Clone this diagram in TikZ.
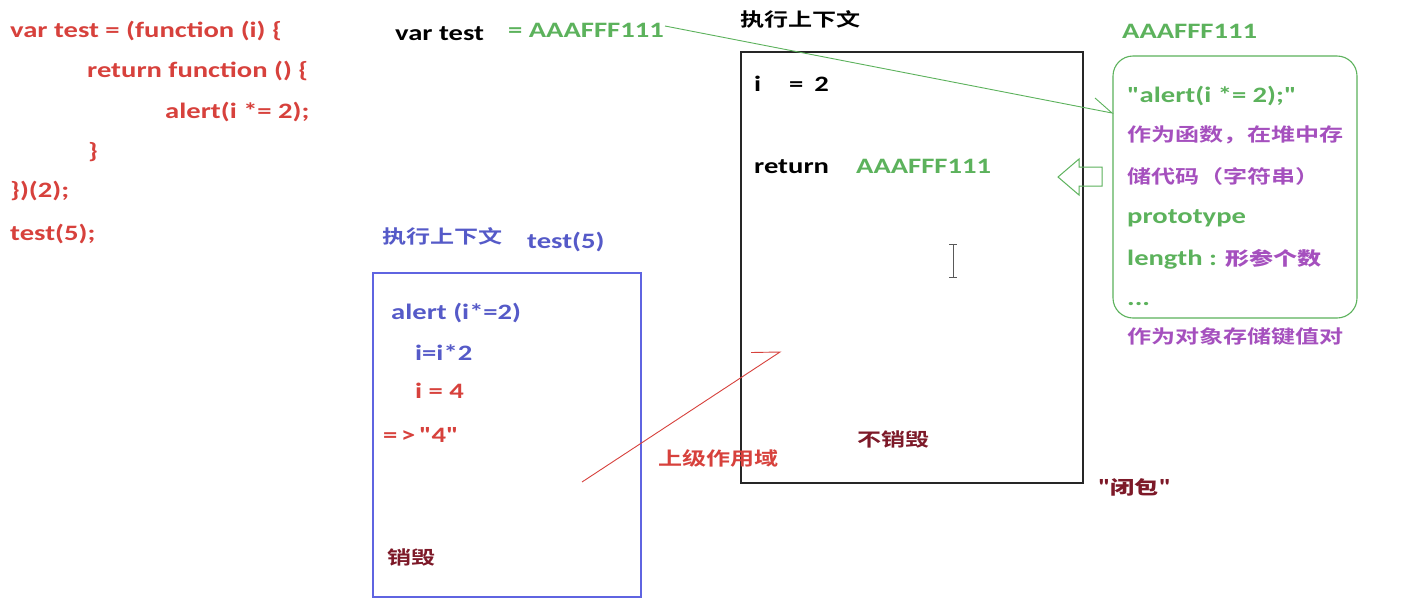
\documentclass[tikz,border=0pt]{standalone}
\usepackage{fontspec}
\setmainfont{Carlito}[FakeStretch=1.3, Ligatures=TeXOff]
\newfontfamily\cjk{Noto Sans CJK SC Bold}[FakeStretch=1.3]
\definecolor{codered}{RGB}{215,65,60}
\definecolor{tgreen}{RGB}{92,178,92}
\definecolor{tpurple}{RGB}{165,80,190}
\definecolor{tblue}{RGB}{85,90,200}
\definecolor{boxblue}{RGB}{95,100,225}
\definecolor{tmaroon}{RGB}{125,25,40}
\newcommand{\cjtext}[1]{{\fontsize{18.5}{22}\selectfont\cjk #1}}
\tikzset{
  txt/.style={anchor=base west, inner sep=0pt, font=\fontsize{22}{26}\selectfont\bfseries},
  cj/.style={anchor=base west, inner sep=0pt, font=\fontsize{18.5}{22}\selectfont\cjk},
}
\begin{document}
\begin{tikzpicture}[x=1pt,y=-1pt]
\useasboundingbox[fill=white] (0,0) rectangle (1402,606);
% code
\node[txt, text=codered] (c1) at (10,37) {var test = (function (i) \{};
\node[txt, text=codered] (c2) at (87,77) {return function () \{};
\node[txt, text=codered] (c3) at (165,118) {alert(i *= 2);};
\node[txt, text=codered] (c4) at (88,158) {\}};
\node[txt, text=codered] (c5) at (10,197) {\})(2);};
\node[txt, text=codered] (c6) at (10,240) {test(5);};
% var test
\node[txt, text=black] (vt) at (395,40) {var test};
\node[txt, text=tgreen] (vtval) at (508,37) {= AAAFFF111};
% big context
\node[cj, text=black] (ctx1) at (740,26) {执行上下文};
\draw[draw=black!85, line width=1.3pt] (741,52) rectangle (1083,483);
\node[txt, text=black] (ieq) at (754,91) {i\hspace{28pt}=\hspace{11pt}2};
\node[txt, text=black] (ret) at (754,173) {return};
\node[txt, text=tgreen] (retval) at (856,173) {AAAFFF111};
\node[cj, text=tmaroon] (nodes) at (857,446) {不销毁};
% cursor
\draw[gray!70!black, line width=1pt] (953,244) -- (953,277) (949,244) -- (957,244) (949,277) -- (957,277);
% heap object
\node[txt, text=tgreen] (heapname) at (1122,38) {AAAFFF111};
\draw[draw=tgreen, line width=1.1pt, rounded corners=20pt] (1113,56) rectangle (1357,318);
\node[txt, text=tgreen] (h1) at (1127,102) {"alert(i *= 2);"};
\node[cj, text=tpurple] (h2) at (1127,141) {作为函数，在堆中存};
\node[cj, text=tpurple] (h3) at (1127,183) {储代码（字符串）};
\node[txt, text=tgreen] (h4) at (1127,223) {prototype};
\node[txt, text=tgreen] (h5) at (1127,265) {length : \cjtext{\color{tpurple}形参个数}};
\node[txt, text=tgreen] (h6) at (1127,305) {...};
\node[cj, text=tpurple] (h7) at (1127,343) {作为对象存储键值对};
\node[txt, text=tmaroon] (bibao) at (1098,494) {"\cjtext{闭包}"};
% green pointer
\coordinate (gs) at (665,26);
\coordinate (gt) at (1112,113);
\coordinate (gw) at (1095,98);
\draw[draw=tgreen, line width=0.9pt] (gs) -- (gt) -- (gw);
% hollow block arrow
\draw[draw=tgreen, line width=1pt] (1058,177) -- (1079,159) -- (1079,167) -- (1102,167) -- (1102,186) -- (1079,186) -- (1079,195) -- cycle;
% small context
\node[cj, text=tblue] (ctx2) at (382,243) {执行上下文};
\node[txt, text=tblue] (t5) at (527,248) {test(5)};
\draw[draw=boxblue, line width=1.2pt] (373,273) rectangle (641,597);
\node[txt, text=tblue] (s1) at (391,319) {alert (i*=2)};
\node[txt, text=tblue] (s2) at (415,360) {i=i*2};
\node[txt, text=codered] (s3) at (415,398) {i = 4};
\node[txt, text=codered] (s4) at (383,442) {=\,>\,"4"};
\node[cj, text=tmaroon] (s5) at (387,564) {销毁};
% scope pointer
\node[cj, text=codered] (scope) at (658,465) {上级作用域};
\coordinate (rs) at (582,482);
\coordinate (rt) at (780,352);
\coordinate (rw) at (751,352.5);
\draw[draw=codered, line width=0.9pt] (rs) -- (rt) -- (rw);
\end{tikzpicture}
\end{document}
